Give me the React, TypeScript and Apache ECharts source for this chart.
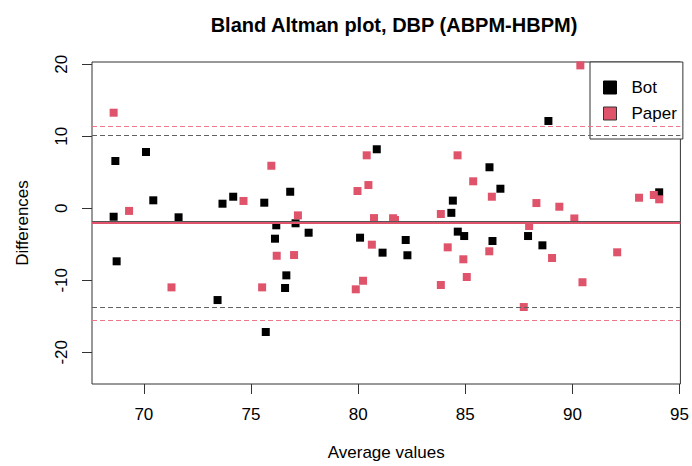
import React, { useEffect, useRef } from "react";
import * as echarts from "echarts";

const botX = [68.59, 68.67, 68.73, 70.10, 70.44, 71.62, 73.44, 73.67, 74.17, 75.62, 75.69, 76.12, 76.18, 76.59, 76.65, 76.83, 77.08, 77.69, 80.09, 80.87, 81.14, 82.22, 82.30, 84.35, 84.42, 84.65, 84.95, 86.13, 86.27, 86.64, 87.93, 88.60, 88.88, 94.05];
const botY = [-1.17, 6.57, -7.36, 7.82, 1.11, -1.25, -12.74, 0.64, 1.61, 0.78, -17.18, -4.22, -2.36, -11.07, -9.31, 2.30, -2.08, -3.39, -4.08, 8.20, -6.16, -4.40, -6.52, -0.63, 1.07, -3.24, -3.85, 5.70, -4.54, 2.72, -3.85, -5.14, 12.13, 2.22];

const paperX = [68.59, 69.31, 71.29, 74.65, 75.52, 75.95, 76.20, 77.01, 77.19, 79.89, 79.97, 80.23, 80.40, 80.48, 80.64, 80.74, 81.63, 81.72, 83.86, 83.86, 84.18, 84.64, 84.91, 85.07, 85.37, 86.12, 86.24, 87.73, 87.98, 88.32, 89.05, 89.39, 90.09, 90.37, 90.47, 92.09, 93.11, 93.80, 94.05];
const paperY = [13.28, -0.36, -10.98, 1.02, -10.98, 5.91, -6.59, -6.49, -0.98, -11.25, 2.40, -10.06, 7.36, 3.23, -5.05, -1.36, -1.38, -1.62, -0.79, -10.65, -5.42, 7.36, -7.08, -9.54, 3.75, -5.97, 1.61, -13.71, -2.46, 0.73, -6.90, 0.22, -1.41, 19.85, -10.27, -6.11, 1.47, 1.85, 1.25];

// mean, upper limit, lower limit
const botLines = [-1.83, 10.14, -13.80];
const paperLines = [-2.06, 11.40, -15.52];

const xTicks = [70, 75, 80, 85, 90, 95];
const yTicks = [-20, -10, 0, 10, 20];

const seriesNames = ["Bot", "Paper"];
const titleText = "Bland Altman plot, DBP (ABPM-HBPM)";
const xName = "Average values";
const yName = "Differences";

const FONT = "'Liberation Sans', Arial, Helvetica, sans-serif";

function zip(xs: number[], ys: number[]) {
  return xs.map((x, i) => [x, ys[i]]);
}

function limitLines(vals: number[], meanColor: string, dashColor: string) {
  return {
    silent: true,
    symbol: "none",
    label: { show: false },
    animation: false,
    data: [
      { yAxis: vals[0], lineStyle: { color: meanColor, width: 2, type: "solid" } },
      { yAxis: vals[1], lineStyle: { color: dashColor, width: 1.2, type: [5, 3] } },
      { yAxis: vals[2], lineStyle: { color: dashColor, width: 1.2, type: [5, 3] } },
    ],
  };
}

export default function App() {
  const ref = useRef<HTMLDivElement>(null);
  useEffect(() => {
    if (!ref.current) return;
    const chart = echarts.init(ref.current, null, { renderer: "svg" });
    chart.setOption({
      animation: false,
      backgroundColor: "#ffffff",
      title: {
        text: titleText,
        left: 389,
        textAlign: "center",
        top: 10,
        textStyle: { fontFamily: FONT, fontWeight: "bold", fontSize: 20, color: "#000" },
      },
      legend: {
        data: [
          { name: seriesNames[0], icon: "rect", itemStyle: { color: "#000", borderColor: "#000", borderWidth: 1 } },
          { name: seriesNames[1], icon: "rect", itemStyle: { color: "#DF536B", borderColor: "#333", borderWidth: 1 } },
        ],
        orient: "vertical",
        left: 590,
        top: 62,
        itemWidth: 13,
        itemHeight: 13,
        itemGap: 9,
        padding: [17, 6, 17, 13],
        backgroundColor: "#fff",
        borderColor: "#333",
        borderWidth: 1,
        borderRadius: 0,
        textStyle: { fontFamily: FONT, fontSize: 17, color: "#000", padding: [0, 0, 0, 10] },
      },
      grid: {
        left: 92,
        right: 10,
        top: 62,
        bottom: 82,
        show: true,
        borderColor: "#333",
        borderWidth: 1,
        backgroundColor: "transparent",
      },
      xAxis: {
        type: "value",
        min: 67.58,
        max: 95.04,
        name: xName,
        nameLocation: "middle",
        nameGap: 60,
        nameTextStyle: { fontFamily: FONT, fontSize: 17, color: "#000" },
        axisLine: { show: false, onZero: false },
        splitLine: { show: false },
        axisTick: { show: true, length: 10, inside: false, lineStyle: { color: "#333" }, customValues: xTicks },
        axisLabel: { fontFamily: FONT, fontSize: 17, color: "#000", margin: 22, customValues: xTicks, showMinLabel: true, showMaxLabel: true },
      },
      yAxis: {
        type: "value",
        min: -24.4,
        max: 20.32,
        name: yName,
        nameLocation: "middle",
        nameGap: 61,
        nameRotate: 90,
        nameTextStyle: { fontFamily: FONT, fontSize: 17, color: "#000" },
        axisLine: { show: false, onZero: false },
        splitLine: { show: false },
        axisTick: { show: true, length: 10, inside: false, lineStyle: { color: "#333" }, customValues: yTicks },
        axisLabel: { fontFamily: FONT, fontSize: 17, color: "#000", margin: 22, rotate: 90, customValues: yTicks },
      },
      series: [
        {
          name: seriesNames[0],
          type: "scatter",
          symbol: "rect",
          symbolSize: 8,
          itemStyle: { color: "#000", opacity: 1 },
          data: zip(botX, botY),
          markLine: limitLines(botLines, "#555555", "#606060"),
          z: 2,
        },
        {
          name: seriesNames[1],
          type: "scatter",
          symbol: "rect",
          symbolSize: 8,
          itemStyle: { color: "#DF536B", opacity: 1 },
          data: zip(paperX, paperY),
          markLine: limitLines(paperLines, "#DF536B", "#E8788A"),
          z: 3,
        },
      ],
    });
    return () => chart.dispose();
  }, []);
  return <div ref={ref} style={{ width: 692, height: 466, position: "absolute", left: 0, top: 0 }} />;
}
